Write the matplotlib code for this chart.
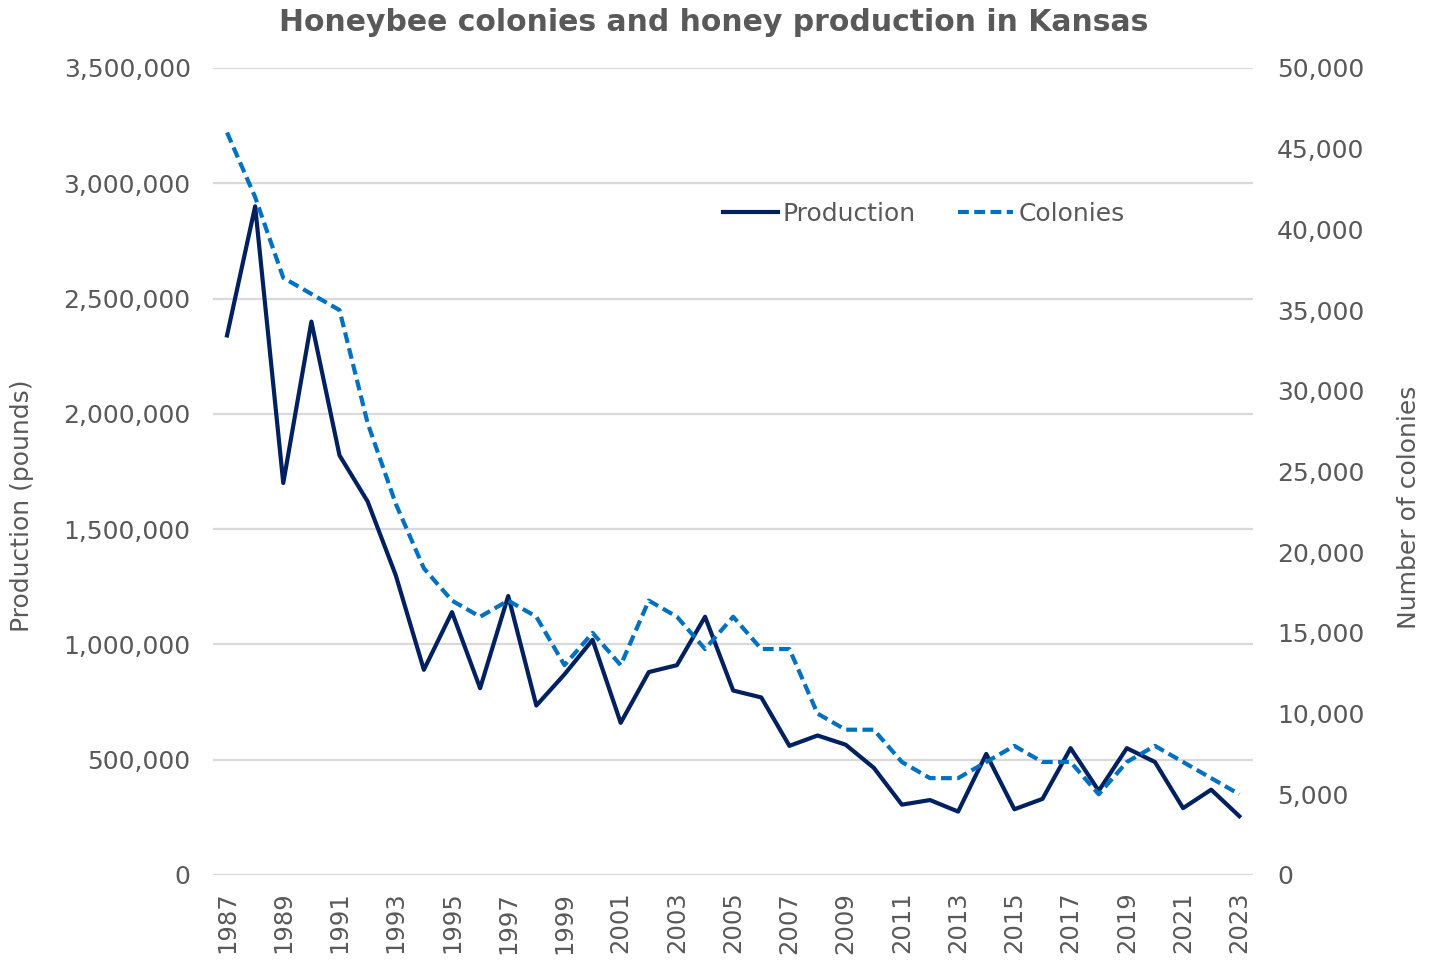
import matplotlib
matplotlib.use("Agg")
import matplotlib.pyplot as plt
from matplotlib.ticker import FuncFormatter, MultipleLocator

# Kansas honey data
years = list(range(1987, 2024))
production = [2340000, 2900000, 1700000, 2400000, 1820000, 1620000, 1300000, 890000,
              1140000, 810000, 1210000, 735000, 870000, 1020000, 660000, 880000,
              910000, 1120000, 800000, 770000, 560000, 605000, 565000, 465000,
              305000, 325000, 275000, 525000, 285000, 330000, 550000, 365000,
              550000, 490000, 290000, 370000, 255000]
colonies = [46000, 42000, 37000, 36000, 35000, 28000, 23000, 19000,
            17000, 16000, 17000, 16000, 13000, 15000, 13000, 17000,
            16000, 14000, 16000, 14000, 14000, 10000, 9000, 9000,
            7000, 6000, 6000, 7000, 8000, 7000, 7000, 5000,
            7000, 8000, 7000, 6000, 5000]
year_ticks = years[::2]

grey = "#595959"
plt.rcParams['font.family'] = ['DejaVu Sans']

fig = plt.figure(figsize=(14.39, 9.63), dpi=100)
ax = fig.add_axes([0.148, 0.0914, 0.723, 0.838])
ax2 = ax.twinx()

l1, = ax.plot(years, production, color="#002060", lw=3, label="Production", zorder=3)
l2, = ax2.plot(years, colonies, color="#0070C0", lw=3, linestyle=(0, (2.6, 1.3)),
               label="Colonies", zorder=3)

ax.set_xlim(1986.5, 2023.5)
ax.set_ylim(0, 3500000)
ax2.set_ylim(0, 50000)
ax.yaxis.set_major_locator(MultipleLocator(500000))
ax2.yaxis.set_major_locator(MultipleLocator(5000))
fmt = FuncFormatter(lambda v, p: f"{int(v):,}")
ax.yaxis.set_major_formatter(fmt)
ax2.yaxis.set_major_formatter(fmt)
ax.set_xticks(year_ticks)
ax.set_xticklabels([str(y) for y in year_ticks], rotation=90)

ax.grid(axis="y", color="#d9d9d9", lw=1.6)
ax.set_axisbelow(True)
for a in (ax, ax2):
    for s in a.spines.values():
        s.set_visible(False)
ax.tick_params(axis="y", length=0, pad=16, labelsize=18, labelcolor=grey)
ax2.tick_params(axis="y", length=0, pad=17, labelsize=18, labelcolor=grey)
ax.tick_params(axis="x", length=0, pad=12, labelsize=17.5, labelcolor=grey)

ax.set_ylabel("Production (pounds)", fontsize=18, color=grey)
ax.yaxis.set_label_coords(-0.172, 0.457)
ax2.set_ylabel("Number of colonies", fontsize=18, color=grey)
ax2.yaxis.set_label_coords(1.1385, 0.456)

fig.text(0.496, 0.977, "Honeybee colonies and honey production in Kansas", fontsize=21.5,
         fontweight="bold", color=grey, ha="center", va="center")

ax2.legend(handles=[l1, l2], loc="center", bbox_to_anchor=(0.683, 0.819), ncol=2,
           frameon=False, fontsize=18, labelcolor=grey, handlelength=2.2,
           handletextpad=0.2, columnspacing=1.7)

fig.savefig("out.png", dpi=100)
